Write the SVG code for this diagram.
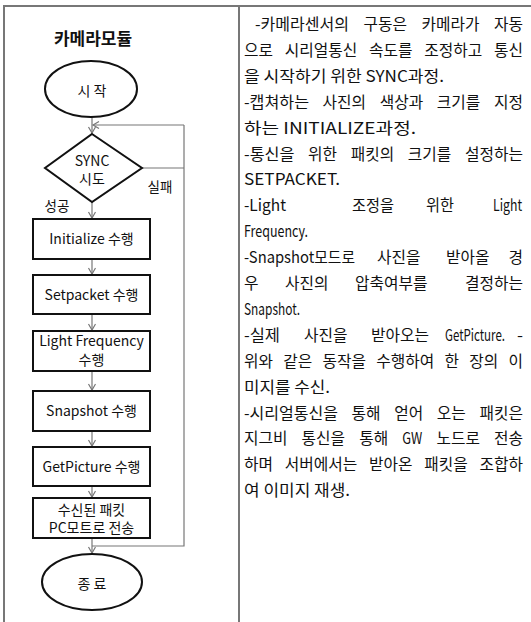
<svg xmlns="http://www.w3.org/2000/svg" width="531" height="622" viewBox="0 0 531 622">
<style>
.frame{stroke:#777;stroke-width:2;fill:none}
.node{fill:#fff;stroke:#111;stroke-width:2}
.conn{stroke:#777;stroke-width:1.2;fill:none}
.t{font-family:"Noto Sans CJK KR","Noto Sans",sans-serif;fill:#111;font-size:14px;text-anchor:middle}
.title{font-size:17px;font-weight:bold}
.lbl{font-size:13.5px}
.r{font-family:"Noto Sans CJK KR","Noto Sans",sans-serif;fill:#111;font-size:16px}
</style>
<defs>
<marker id="ah" markerUnits="userSpaceOnUse" markerWidth="10" markerHeight="10" refX="7" refY="4" orient="auto">
<path d="M1,0.5 L7,4 L1,7.5" fill="none" stroke="#777" stroke-width="1.2"/>
</marker>
</defs>
<rect width="531" height="622" fill="#fff"/>
<g id="frame">
<path class="frame" d="M4,623 V6 H531 M239,6 V623"/>
</g>
<text class="t title" x="93" y="45">카메라모듈</text>
<g id="connectors">
<path class="conn" d="M92,117 V133" marker-end="url(#ah)"/>
<path class="conn" d="M92,202 V218" marker-end="url(#ah)"/>
<path class="conn" d="M92,259 V274" marker-end="url(#ah)"/>
<path class="conn" d="M92,314 V330" marker-end="url(#ah)"/>
<path class="conn" d="M92,371 V390" marker-end="url(#ah)"/>
<path class="conn" d="M92,431 V446" marker-end="url(#ah)"/>
<path class="conn" d="M92,486 V497" marker-end="url(#ah)"/>
<path class="conn" d="M92,538 V553" marker-end="url(#ah)"/>
<path class="conn" d="M142,168 H184 M184,125 V546 H92"/>
<path class="conn" d="M184,125 H93" marker-end="url(#ah)"/>
<text class="t lbl" x="160" y="192">실패</text>
<text class="t lbl" x="57" y="211">성공</text>
</g>
<g id="start">
<ellipse class="node" cx="91" cy="89" rx="46" ry="28"/>
<text class="t" x="92" y="96">시 작</text>
</g>
<g id="sync">
<polygon class="node" points="92,134 142,168 92,202 45,168"/>
<text class="t" x="92" y="165.5">SYNC</text>
<text class="t" x="92" y="184">시도</text>
</g>
<g id="initialize">
<rect class="node" x="33" y="219" width="117" height="40"/>
<text class="t" x="91.5" y="244">Initialize 수행</text>
</g>
<g id="setpacket">
<rect class="node" x="33" y="275" width="117" height="39"/>
<text class="t" x="91.5" y="300">Setpacket 수행</text>
</g>
<g id="lightfreq">
<rect class="node" x="33" y="331" width="117" height="40"/>
<text class="t" x="91.5" y="345.5">Light Frequency</text>
<text class="t" x="91.5" y="364.5">수행</text>
</g>
<g id="snapshot">
<rect class="node" x="33" y="391" width="117" height="40"/>
<text class="t" x="91.5" y="416">Snapshot 수행</text>
</g>
<g id="getpicture">
<rect class="node" x="33" y="447" width="117" height="39"/>
<text class="t" x="91.5" y="472">GetPicture 수행</text>
</g>
<g id="send">
<rect class="node" x="33" y="498" width="117" height="40"/>
<text class="t" x="91.5" y="515">수신된 패킷</text>
<text class="t" x="91.5" y="533">PC모트로 전송</text>
</g>
<g id="end">
<ellipse class="node" cx="92" cy="582" rx="50" ry="28"/>
<text class="t" x="92" y="589">종 료</text>
</g>
<g id="description">
<text class="r" y="30" x="255" textLength="94" lengthAdjust="spacingAndGlyphs">-카메라센서의</text>
<text class="r" y="30" x="363.5" textLength="43.5" lengthAdjust="spacingAndGlyphs">구동은</text>
<text class="r" y="30" x="421.5" textLength="58" lengthAdjust="spacingAndGlyphs">카메라가</text>
<text class="r" y="30" x="494" textLength="29" lengthAdjust="spacingAndGlyphs">자동</text>

<text class="r" y="55.9" x="244" textLength="29" lengthAdjust="spacingAndGlyphs">으로</text>
<text class="r" y="55.9" x="284.75" textLength="72.5" lengthAdjust="spacingAndGlyphs">시리얼통신</text>
<text class="r" y="55.9" x="369" textLength="43.5" lengthAdjust="spacingAndGlyphs">속도를</text>
<text class="r" y="55.9" x="424.25" textLength="58" lengthAdjust="spacingAndGlyphs">조정하고</text>
<text class="r" y="55.9" x="494" textLength="29" lengthAdjust="spacingAndGlyphs">통신</text>

<text class="r" y="81.8" x="244" textLength="200" lengthAdjust="spacingAndGlyphs">을 시작하기 위한 SYNC과정.</text>

<text class="r" y="107.7" x="244" textLength="65" lengthAdjust="spacingAndGlyphs">-캡쳐하는</text>
<text class="r" y="107.7" x="322.6" textLength="43.5" lengthAdjust="spacingAndGlyphs">사진의</text>
<text class="r" y="107.7" x="379.7" textLength="43.5" lengthAdjust="spacingAndGlyphs">색상과</text>
<text class="r" y="107.7" x="436.8" textLength="43.5" lengthAdjust="spacingAndGlyphs">크기를</text>
<text class="r" y="107.7" x="494" textLength="29" lengthAdjust="spacingAndGlyphs">지정</text>

<text class="r" y="133.6" x="244" textLength="172" lengthAdjust="spacingAndGlyphs">하는 INITIALIZE과정.</text>

<text class="r" y="159.5" x="244" textLength="50.5" lengthAdjust="spacingAndGlyphs">-통신을</text>
<text class="r" y="159.5" x="308.1" textLength="29" lengthAdjust="spacingAndGlyphs">위한</text>
<text class="r" y="159.5" x="350.7" textLength="43.5" lengthAdjust="spacingAndGlyphs">패킷의</text>
<text class="r" y="159.5" x="407.8" textLength="43.5" lengthAdjust="spacingAndGlyphs">크기를</text>
<text class="r" y="159.5" x="465" textLength="58" lengthAdjust="spacingAndGlyphs">설정하는</text>

<text class="r" y="185.4" x="244" textLength="96" lengthAdjust="spacingAndGlyphs">SETPACKET.</text>

<text class="r" y="211.3" x="244" textLength="42" lengthAdjust="spacingAndGlyphs">-Light</text>
<text class="r" y="211.3" x="352" textLength="42" lengthAdjust="spacingAndGlyphs">조정을</text>
<text class="r" y="211.3" x="426" textLength="28" lengthAdjust="spacingAndGlyphs">위한</text>
<text class="r" y="211.3" x="493" textLength="29" lengthAdjust="spacingAndGlyphs">Light</text>

<text class="r" y="237.2" x="244" textLength="64" lengthAdjust="spacingAndGlyphs">Frequency.</text>

<text class="r" y="263.1" x="244" textLength="111" lengthAdjust="spacingAndGlyphs">-Snapshot모드로</text>
<text class="r" y="263.1" x="377" textLength="43.5" lengthAdjust="spacingAndGlyphs">사진을</text>
<text class="r" y="263.1" x="446" textLength="43.5" lengthAdjust="spacingAndGlyphs">받아올</text>
<text class="r" y="263.1" x="508.5" textLength="14.5" lengthAdjust="spacingAndGlyphs">경</text>

<text class="r" y="289" x="244" textLength="14.5" lengthAdjust="spacingAndGlyphs">우</text>
<text class="r" y="289" x="285" textLength="43.5" lengthAdjust="spacingAndGlyphs">사진의</text>
<text class="r" y="289" x="355" textLength="72.5" lengthAdjust="spacingAndGlyphs">압축여부를</text>
<text class="r" y="289" x="465" textLength="58" lengthAdjust="spacingAndGlyphs">결정하는</text>

<text class="r" y="314.9" x="244" textLength="56" lengthAdjust="spacingAndGlyphs">Snapshot.</text>

<text class="r" y="340.8" x="244" textLength="36" lengthAdjust="spacingAndGlyphs">-실제</text>
<text class="r" y="340.8" x="304" textLength="43.5" lengthAdjust="spacingAndGlyphs">사진을</text>
<text class="r" y="340.8" x="371" textLength="58" lengthAdjust="spacingAndGlyphs">받아오는</text>
<text class="r" y="340.8" x="445" textLength="60" lengthAdjust="spacingAndGlyphs">GetPicture.</text>
<text class="r" y="340.8" x="517" textLength="6" lengthAdjust="spacingAndGlyphs">-</text>

<text class="r" y="366.7" x="244" textLength="29" lengthAdjust="spacingAndGlyphs">위와</text>
<text class="r" y="366.7" x="283.25" textLength="29" lengthAdjust="spacingAndGlyphs">같은</text>
<text class="r" y="366.7" x="322.5" textLength="43.5" lengthAdjust="spacingAndGlyphs">동작을</text>
<text class="r" y="366.7" x="376.25" textLength="58" lengthAdjust="spacingAndGlyphs">수행하여</text>
<text class="r" y="366.7" x="444.5" textLength="14.5" lengthAdjust="spacingAndGlyphs">한</text>
<text class="r" y="366.7" x="469.25" textLength="29" lengthAdjust="spacingAndGlyphs">장의</text>
<text class="r" y="366.7" x="508.5" textLength="14.5" lengthAdjust="spacingAndGlyphs">이</text>

<text class="r" y="392.6" x="244" textLength="86" lengthAdjust="spacingAndGlyphs">미지를 수신.</text>

<text class="r" y="418.5" x="244" textLength="94" lengthAdjust="spacingAndGlyphs">-시리얼통신을</text>
<text class="r" y="418.5" x="351.6" textLength="29" lengthAdjust="spacingAndGlyphs">통해</text>
<text class="r" y="418.5" x="394.2" textLength="29" lengthAdjust="spacingAndGlyphs">얻어</text>
<text class="r" y="418.5" x="436.8" textLength="29" lengthAdjust="spacingAndGlyphs">오는</text>
<text class="r" y="418.5" x="479.5" textLength="43.5" lengthAdjust="spacingAndGlyphs">패킷은</text>

<text class="r" y="444.4" x="244" textLength="43.5" lengthAdjust="spacingAndGlyphs">지그비</text>
<text class="r" y="444.4" x="301.6" textLength="43.5" lengthAdjust="spacingAndGlyphs">통신을</text>
<text class="r" y="444.4" x="359.2" textLength="29" lengthAdjust="spacingAndGlyphs">통해</text>
<text class="r" y="444.4" x="402.3" textLength="20" lengthAdjust="spacingAndGlyphs">GW</text>
<text class="r" y="444.4" x="436.4" textLength="43.5" lengthAdjust="spacingAndGlyphs">노드로</text>
<text class="r" y="444.4" x="494" textLength="29" lengthAdjust="spacingAndGlyphs">전송</text>

<text class="r" y="470.3" x="244" textLength="29" lengthAdjust="spacingAndGlyphs">하며</text>
<text class="r" y="470.3" x="284.75" textLength="72.5" lengthAdjust="spacingAndGlyphs">서버에서는</text>
<text class="r" y="470.3" x="369" textLength="43.5" lengthAdjust="spacingAndGlyphs">받아온</text>
<text class="r" y="470.3" x="424.25" textLength="43.5" lengthAdjust="spacingAndGlyphs">패킷을</text>
<text class="r" y="470.3" x="479.5" textLength="43.5" lengthAdjust="spacingAndGlyphs">조합하</text>

<text class="r" y="496.2" x="244" textLength="106" lengthAdjust="spacingAndGlyphs">여 이미지 재생.</text>
</g>
</svg>
